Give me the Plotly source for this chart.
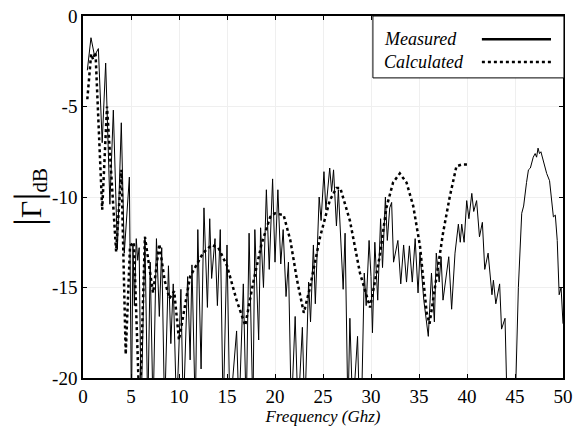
import plotly.graph_objects as go

# Measured |Gamma| (dB) vs frequency (GHz) - local extrema
meas_f = [0.45, 0.83, 1.2, 1.6, 2.0, 2.36, 2.8, 3.16, 3.58, 3.99, 4.3, 4.83,
          5.05, 5.2, 5.35, 5.55, 5.7, 5.85, 6.05, 6.45, 6.75, 7.0, 7.3, 7.65, 7.95, 8.2, 8.5,
          8.9, 9.15, 9.4, 9.75, 10.2, 10.45, 10.9, 11.16, 11.35, 11.7, 11.96, 12.3, 12.6,
          12.96, 13.2, 13.4, 13.75, 14.0, 14.3, 14.6, 15.0, 15.3, 16.0, 16.25, 16.7, 17.0,
          17.3, 17.7, 17.9, 18.3, 18.5, 18.8, 19.1, 19.4, 19.75, 20.0, 20.3, 20.6, 20.85,
          21.15, 21.4, 21.7, 22.1, 22.4, 22.85, 23.1, 23.5, 23.7, 24.0, 24.2, 24.6, 24.8,
          25.1, 25.3, 25.7, 25.9, 26.1, 26.4, 26.6, 27.1, 27.3, 27.6, 27.8, 28.1, 28.6,
          28.8, 29.0, 29.3, 29.5, 29.8, 30.0, 30.15, 30.4, 30.7, 31.0, 31.2, 31.5, 31.7,
          31.95, 32.15, 32.35, 32.8, 33.1, 33.4, 33.7, 34.0, 34.3, 34.6, 34.9, 35.1, 35.5,
          35.97, 36.3, 36.6, 36.8, 37.1, 37.3, 37.5, 38.1, 38.4, 38.75, 39.1, 39.3, 39.45,
          39.7, 39.97, 40.2, 40.5, 40.7, 41.0, 41.3, 41.6, 41.85, 42.2, 42.6, 42.75, 43.0,
          43.4, 43.6, 43.96, 44.2, 45.0, 45.35, 45.7, 45.9, 46.2, 46.4, 46.6, 46.9, 47.1,
          47.25, 47.4, 47.55, 47.7, 47.9, 48.3, 48.6, 49.0, 49.2, 49.4, 49.6, 49.8, 50.0]
meas_db = [-3.0, -1.2, -2.2, -1.8, -7.0, -2.6, -10.4, -5.2, -12.9, -5.9, -13.1, -8.9,
           -22, -12.6, -16.0, -12.3, -13.5, -12.8, -22, -12.2, -22, -13.6, -22, -12.3, -16.6, -12.8, -22,
           -13.8, -18.1, -14.8, -22, -15.1, -22, -14.4, -19.0, -13.75, -22, -11.8, -19.5, -10.6,
           -16.1, -11.2, -14.5, -12.3, -16.0, -11.8, -22, -12.65, -22, -17.4, -22, -14.8, -22,
           -12.0, -22, -11.8, -17.9, -11.7, -15.0, -9.6, -14.0, -9.0, -13.6, -9.6, -13.7, -11.8,
           -15.5, -13.6, -22, -16.6, -22, -17.2, -22, -14.7, -16.9, -12.65, -15.9, -10.0, -11.3,
           -8.6, -10.7, -8.4, -9.7, -8.5, -11.6, -9.6, -15.1, -12.0, -22, -16.7, -22, -17.7,
           -22, -22, -14.2, -16.0, -12.4, -14.4, -17.5, -12.5, -15.7, -11.2, -13.9, -10.0, -12.4,
           -10.6, -10.3, -13.6, -12.4, -14.8, -12.65, -14.7, -12.7, -14.7, -12.3, -15.3, -13.1, -15.7,
           -17.7, -14.2, -16.9, -13.1, -14.7, -13.3, -15.7, -13.3, -16.2, -13.1, -11.5, -12.5, -11.5,
           -12.5, -10.2, -11.2, -9.8, -10.8, -10.2, -12.2, -11.4, -14.0, -13.1, -15.4, -14.6, -15.9,
           -14.8, -17.3, -16.7, -22, -22, -15.0, -10.9, -10.5, -9.2, -8.5, -8.4, -7.8, -7.6,
           -7.8, -7.3, -7.6, -7.5, -7.9, -8.7, -9.1, -11.1, -11.0, -12.4, -15.4, -15.0, -17.0]

# Calculated |Gamma| (dB)
calc_f = [0.45, 0.85, 1.05, 1.3, 2.0, 2.5, 3.45, 4.0, 4.45, 4.9, 5.3, 5.9, 6.45, 7.3,
          7.95, 8.5, 9.0, 9.5, 10.0, 11.15, 12.5, 13.4, 14.1, 15.0, 16.0, 16.9, 17.7,
          18.6, 19.5, 20.0, 20.9, 21.6, 22.3, 23.0, 23.6, 24.7, 25.7, 26.4, 26.8, 27.8,
          28.85, 29.9, 30.9, 31.6, 32.3, 33.0, 33.7, 34.4, 35.1, 35.8, 36.1, 36.8, 37.5,
          38.2, 38.9, 39.5, 40.0]
calc_db = [-4.6, -2.1, -2.4, -2.0, -10.7, -5.0, -13.0, -8.5, -18.7, -12.7, -12.5, -22, -12.2, -15.3,
           -12.6, -14.6, -15.6, -15.2, -17.9, -14.4, -13.1, -12.65, -12.8, -13.8, -15.7, -17.1, -14.8,
           -12.6, -11.1, -10.9, -11.0, -12.4, -14.6, -16.4, -15.1, -12.2, -10.2, -9.5, -9.5, -11.3,
           -14.2, -16.1, -13.3, -10.6, -9.2, -8.7, -9.2, -10.5, -12.7, -16.4, -17.0, -14.6, -12.0,
           -10.0, -8.3, -8.2, -8.2]

x_ticks = [0, 5, 10, 15, 20, 25, 30, 35, 40, 45, 50]
y_ticks = [-20, -15, -10, -5, 0]
y_ticklabels = ["-20", "-15", "-10", "-5", "0"]
legend_names = ["Measured", "Calculated"]

SERIF = "Liberation Serif, Times New Roman, serif"

fig = go.Figure()
fig.add_trace(go.Scatter(x=meas_f, y=meas_db, mode="lines",
                         line=dict(color="black", width=1), name=legend_names[0]))
fig.add_trace(go.Scatter(x=calc_f, y=calc_db, mode="lines",
                         line=dict(color="black", width=2.5, dash="dot"), name=legend_names[1]))

axis_common = dict(showline=True, linecolor="black", linewidth=1.5, mirror="ticks",
                   ticks="inside", ticklen=4, tickcolor="black", showgrid=True,
                   gridcolor="#efefef", gridwidth=1, zeroline=False, automargin=False,
                   tickfont=dict(family=SERIF, size=19, color="black"))

fig.update_xaxes(range=[0, 50], tickvals=x_ticks, **axis_common,
                 title=dict(text="<i>Frequency (Ghz)</i>",
                            font=dict(family=SERIF, size=17, color="black"),
                            standoff=4))
fig.update_yaxes(range=[-20, 0], tickvals=y_ticks, ticktext=y_ticklabels, **axis_common,
                 title=dict(text="<span style='font-size:40px'>|</span>Γ<span style='font-size:40px'>|</span><sub>dB</sub>",
                            font=dict(family=SERIF, size=30, color="black"),
                            standoff=2))

# manual legend (text left, line sample right, boxed)
fig.add_shape(type="rect", xref="paper", yref="paper", x0=0.604, x1=1.002, y0=0.829, y1=1.0,
              line=dict(color="black", width=1), fillcolor="white", layer="above")
fig.add_shape(type="line", xref="paper", yref="paper", x0=0.831, x1=0.975, y0=0.936, y1=0.936,
              line=dict(color="black", width=2.5))
fig.add_shape(type="line", xref="paper", yref="paper", x0=0.831, x1=0.975, y0=0.873, y1=0.873,
              line=dict(color="black", width=2.5, dash="dot"))
for name, yy in zip(legend_names, [0.936, 0.873]):
    fig.add_annotation(xref="paper", yref="paper", x=0.622, y=yy, text="<i>" + name + "</i>",
                       showarrow=False, xanchor="left", yanchor="middle",
                       font=dict(family=SERIF, size=18, color="black"))

fig.update_layout(width=576, height=431, margin=dict(l=83, r=13, t=16, b=53),
                  plot_bgcolor="white", paper_bgcolor="white", showlegend=False,
                  font=dict(family=SERIF, size=18, color="black"))

fig.write_html("out.html", config={"displayModeBar": False},
               post_script="document.body.style.margin='0px';document.body.style.padding='0px';")
